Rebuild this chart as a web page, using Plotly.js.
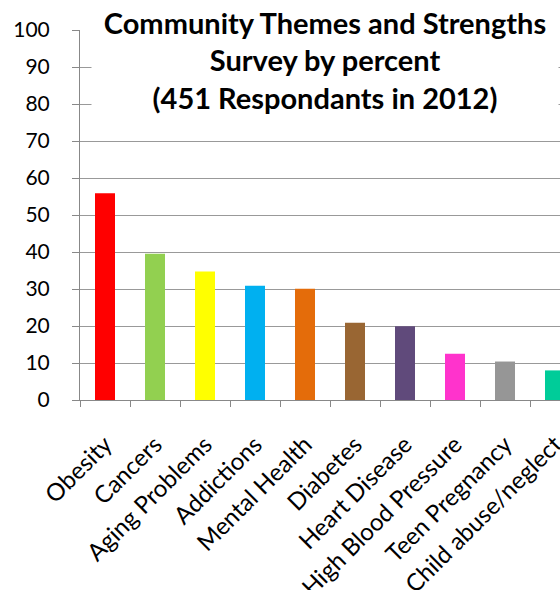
<!DOCTYPE html>
<html>
<head>
<meta charset="utf-8">
<script src="https://cdn.plot.ly/plotly-3.0.1.min.js"></script>
<style>html,body{margin:0;padding:0;background:#fff;}#chart{width:560px;height:590px;}</style>
</head>
<body>
<div id="chart"></div>
<script>
const categories = ["Obesity","Cancers","Aging Problems","Addictions","Mental Health","Diabetes","Heart Disease","High Blood Pressure","Teen Pregnancy","Child abuse/neglect"];
const percents = [55.9, 39.5, 34.7, 30.9, 30.1, 20.9, 19.9, 12.5, 10.4, 8.0];
const barColors = ["#FF0000","#92D050","#FFFF00","#00B0F0","#E46C0A","#996633","#604A7B","#FF33CC","#969696","#00CC99"];
const yTicks = [0,10,20,30,40,50,60,70,80,90,100];
const titleLines = ["Community Themes and Strengths","Survey by percent","(451 Respondants in 2012)"];

const trace = {
  type: "bar",
  x: categories,
  y: percents,
  width: 0.4,
  marker: {color: barColors, line: {width: 0}},
  hoverinfo: "x+y"
};

const layout = {
  width: 560, height: 590,
  margin: {l: 80, r: 0, t: 30, b: 190, pad: 0},
  paper_bgcolor: "#fff", plot_bgcolor: "#fff",
  showlegend: false,
  font: {family: "Lato, 'Open Sans', sans-serif", color: "#000"},
  xaxis: {
    type: "category",
    range: [-0.5, 9.1],
    tickangle: -45,
    tickson: "boundaries",
    ticks: "outside", ticklen: 6, tickcolor: "#888",
    showline: true, linecolor: "#888", linewidth: 1,
    showgrid: false,
    tickfont: {size: 24, family: "Lato, sans-serif", color: "#000"},
    ticklabelstandoff: 20
  },
  yaxis: {
    range: [0, 100],
    tickvals: yTicks,
    ticktext: yTicks.map(String),
    ticks: "outside", ticklen: 7, tickcolor: "#888",
    showline: true, linecolor: "#888", linewidth: 1,
    showgrid: true, gridcolor: "#999", gridwidth: 1,
    zeroline: false,
    tickfont: {size: 21, family: "Lato, sans-serif", color: "#000"},
    ticklabelstandoff: 18
  },
  annotations: [{
    xref: "paper", yref: "paper",
    x: 0.51, y: 1.073, xanchor: "center", yanchor: "top",
    width: 466, height: 112,
    valign: "middle",
    text: "<b>" + titleLines.join("<br>") + "</b>",
    showarrow: false,
    align: "center",
    bgcolor: "#fff",
    borderpad: 0,
    font: {size: 29, family: "Lato, sans-serif", color: "#000"}
  }]
};

Plotly.newPlot("chart", [trace], layout, {displayModeBar: false, staticPlot: true});
</script>
</body>
</html>
